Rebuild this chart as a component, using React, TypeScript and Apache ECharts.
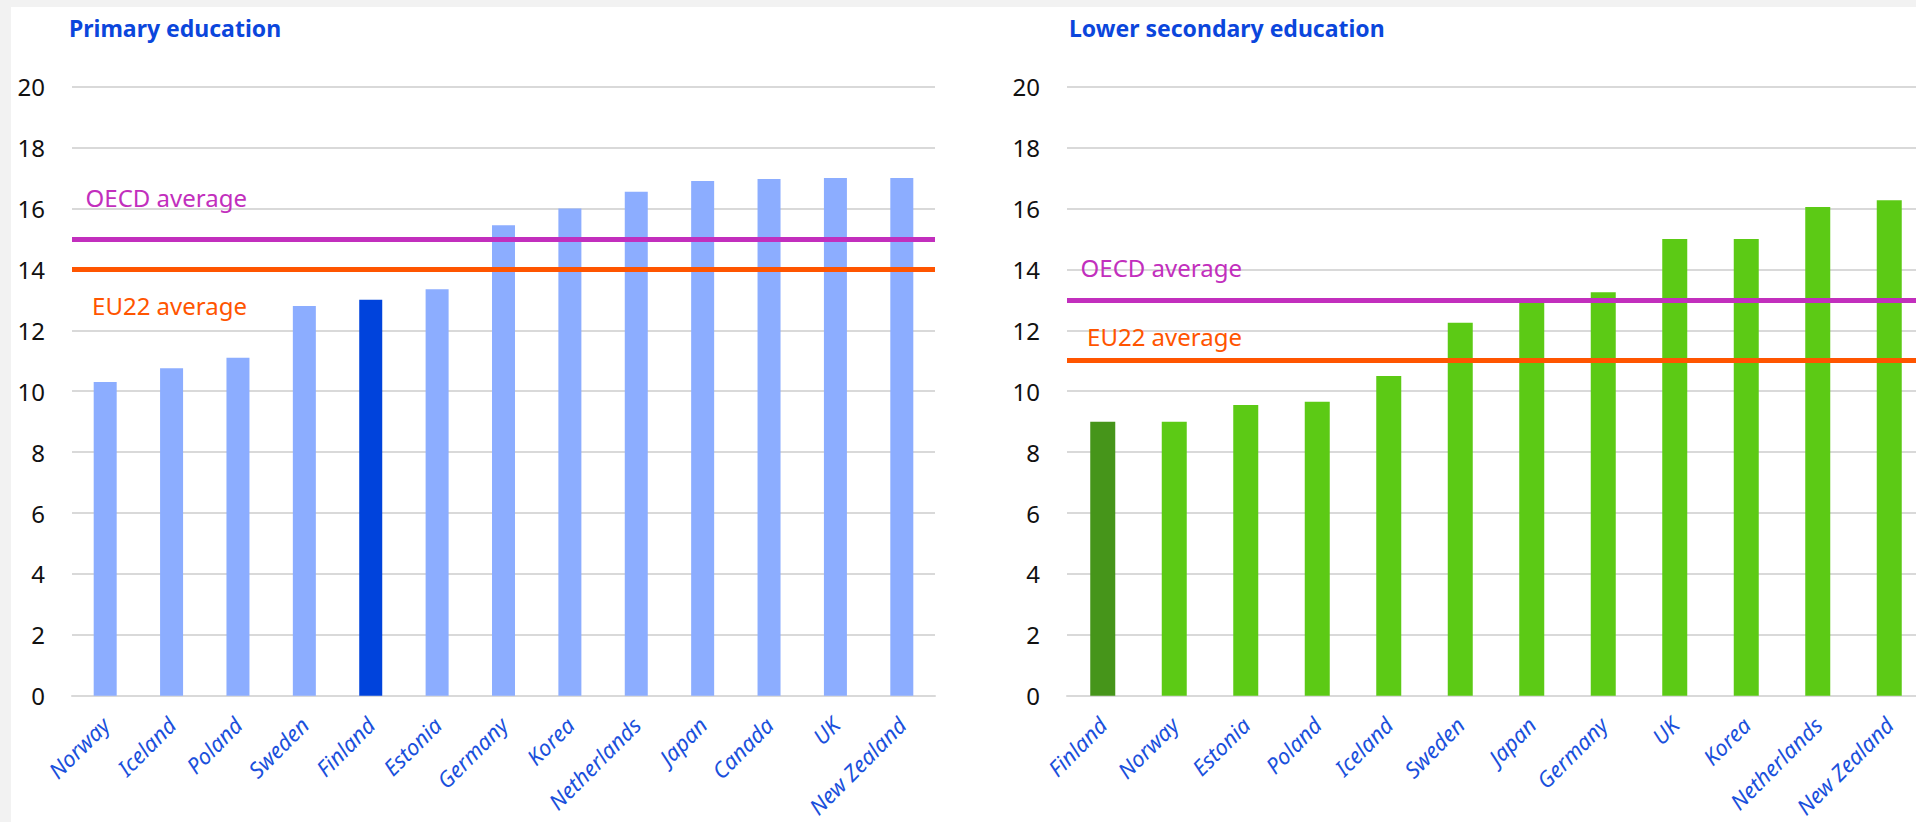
import React, { useEffect, useRef } from 'react';
import * as echarts from 'echarts';

const primaryTitle = 'Primary education';
const lowerTitle = 'Lower secondary education';

const primaryCountries = ['Norway', 'Iceland', 'Poland', 'Sweden', 'Finland', 'Estonia', 'Germany', 'Korea', 'Netherlands', 'Japan', 'Canada', 'UK', 'New Zealand'];
const primaryValues = [10.3, 10.75, 11.1, 12.8, 13.0, 13.35, 15.45, 16.0, 16.55, 16.9, 16.97, 17.0, 17.0];
const primaryOecd = 15;
const primaryEu22 = 14;

const lowerCountries = ['Finland', 'Norway', 'Estonia', 'Poland', 'Iceland', 'Sweden', 'Japan', 'Germany', 'UK', 'Korea', 'Netherlands', 'New Zealand'];
const lowerValues = [9.0, 9.0, 9.55, 9.65, 10.5, 12.25, 12.95, 13.25, 15.0, 15.0, 16.05, 16.27];
const lowerOecd = 13;
const lowerEu22 = 11;

const highlightCountry = 'Finland';
const oecdLabel = 'OECD average';
const eu22Label = 'EU22 average';

const yMin = 0;
const yMax = 20;
const yInterval = 2;

export default function App() {
  const ref = useRef<HTMLDivElement>(null);

  useEffect(() => {
    if (!ref.current) return;
    const chart = echarts.init(ref.current, null, { renderer: 'svg' });
    const FONT = '"Noto Sans", "Liberation Sans", Arial, sans-serif';
    const GRID_COLOR = '#d9d9d9';
    const OECD_COLOR = '#c22fbd';
    const EU_COLOR = '#ff5500';

    const grids = [
      { left: 72, top: 86.7, width: 863, height: 609 },
      { left: 1067, top: 86.7, width: 858, height: 609 },
    ];

    const makeX = (gi: number, cats: string[]) => ({
      type: 'category',
      gridIndex: gi,
      data: cats,
      axisTick: { show: false },
      axisLine: { show: true, lineStyle: { color: GRID_COLOR, width: 2 } },
      axisLabel: {
        rotate: 45,
        interval: 0,
        margin: 25,
        color: '#1a50dc',
        fontSize: 22,
        fontStyle: 'italic',
        fontFamily: FONT,
      },
    });
    const makeY = (gi: number) => ({
      type: 'value',
      gridIndex: gi,
      min: yMin,
      max: yMax,
      interval: yInterval,
      axisLine: { show: false },
      axisTick: { show: false },
      splitLine: { lineStyle: { color: GRID_COLOR, width: 2 } },
      axisLabel: { margin: 27, color: '#111111', fontSize: 24, fontFamily: FONT },
    });

    const makeBars = (
      gi: number,
      cats: string[],
      vals: number[],
      base: string,
      hi: string,
      bw: number,
      oecd: number,
      eu: number
    ) => ({
      type: 'bar',
      xAxisIndex: gi,
      yAxisIndex: gi,
      barWidth: bw,
      data: vals.map((v, i) => ({
        value: v,
        itemStyle: { color: cats[i] === highlightCountry ? hi : base },
      })),
      markLine: {
        silent: true,
        symbol: 'none',
        label: { show: false },
        z: 5,
        data: [
          { yAxis: oecd, lineStyle: { color: OECD_COLOR, width: 5, type: 'solid' } },
          { yAxis: eu, lineStyle: { color: EU_COLOR, width: 5, type: 'solid' } },
        ],
      },
    });

    chart.setOption({
      animation: false,
      backgroundColor: 'transparent',
      title: [
        {
          text: primaryTitle,
          left: 69,
          top: 13,
          padding: 0,
          textStyle: { color: '#0b46dc', fontSize: 23, fontWeight: 'bold', fontFamily: FONT, lineHeight: 30 },
        },
        {
          text: lowerTitle,
          left: 1069,
          top: 13,
          padding: 0,
          textStyle: { color: '#0b46dc', fontSize: 23, fontWeight: 'bold', fontFamily: FONT, lineHeight: 30 },
        },
      ],
      grid: grids,
      xAxis: [makeX(0, primaryCountries), makeX(1, lowerCountries)],
      yAxis: [makeY(0), makeY(1)],
      series: [
        makeBars(0, primaryCountries, primaryValues, '#8cadff', '#0043dc', 23, primaryOecd, primaryEu22),
        makeBars(1, lowerCountries, lowerValues, '#5cca15', '#46951a', 25, lowerOecd, lowerEu22),
      ],
    });

    // average labels, placed relative to their lines
    const labelSpecs = [
      { gi: 0, value: primaryOecd, dy: -41, text: oecdLabel, color: OECD_COLOR },
      { gi: 0, value: primaryEu22, dy: 36, text: eu22Label, color: EU_COLOR },
      { gi: 1, value: lowerOecd, dy: -32, text: oecdLabel, color: OECD_COLOR },
      { gi: 1, value: lowerEu22, dy: -24, text: eu22Label, color: EU_COLOR },
    ];
    const graphic = labelSpecs.map((s) => {
      const py = chart.convertToPixel({ yAxisIndex: s.gi }, s.value) as number;
      return {
        type: 'text',
        x: grids[s.gi].left + 175,
        y: py + s.dy,
        silent: true,
        style: {
          text: s.text,
          fill: s.color,
          font: `24px ${FONT}`,
          align: 'right',
          verticalAlign: 'middle',
        },
      };
    });
    chart.setOption({ graphic });

    return () => chart.dispose();
  }, []);

  return (
    <div
      style={{
        position: 'fixed',
        left: 0,
        top: 0,
        width: '1916px',
        height: '822px',
        overflow: 'hidden',
        background: '#f2f2f2',
      }}
    >
      <div
        style={{
          position: 'absolute',
          left: '11px',
          top: '7px',
          right: 0,
          bottom: 0,
          background: '#ffffff',
        }}
      />
      <div ref={ref} style={{ position: 'absolute', left: 0, top: 0, width: '1940px', height: '822px' }} />
    </div>
  );
}
